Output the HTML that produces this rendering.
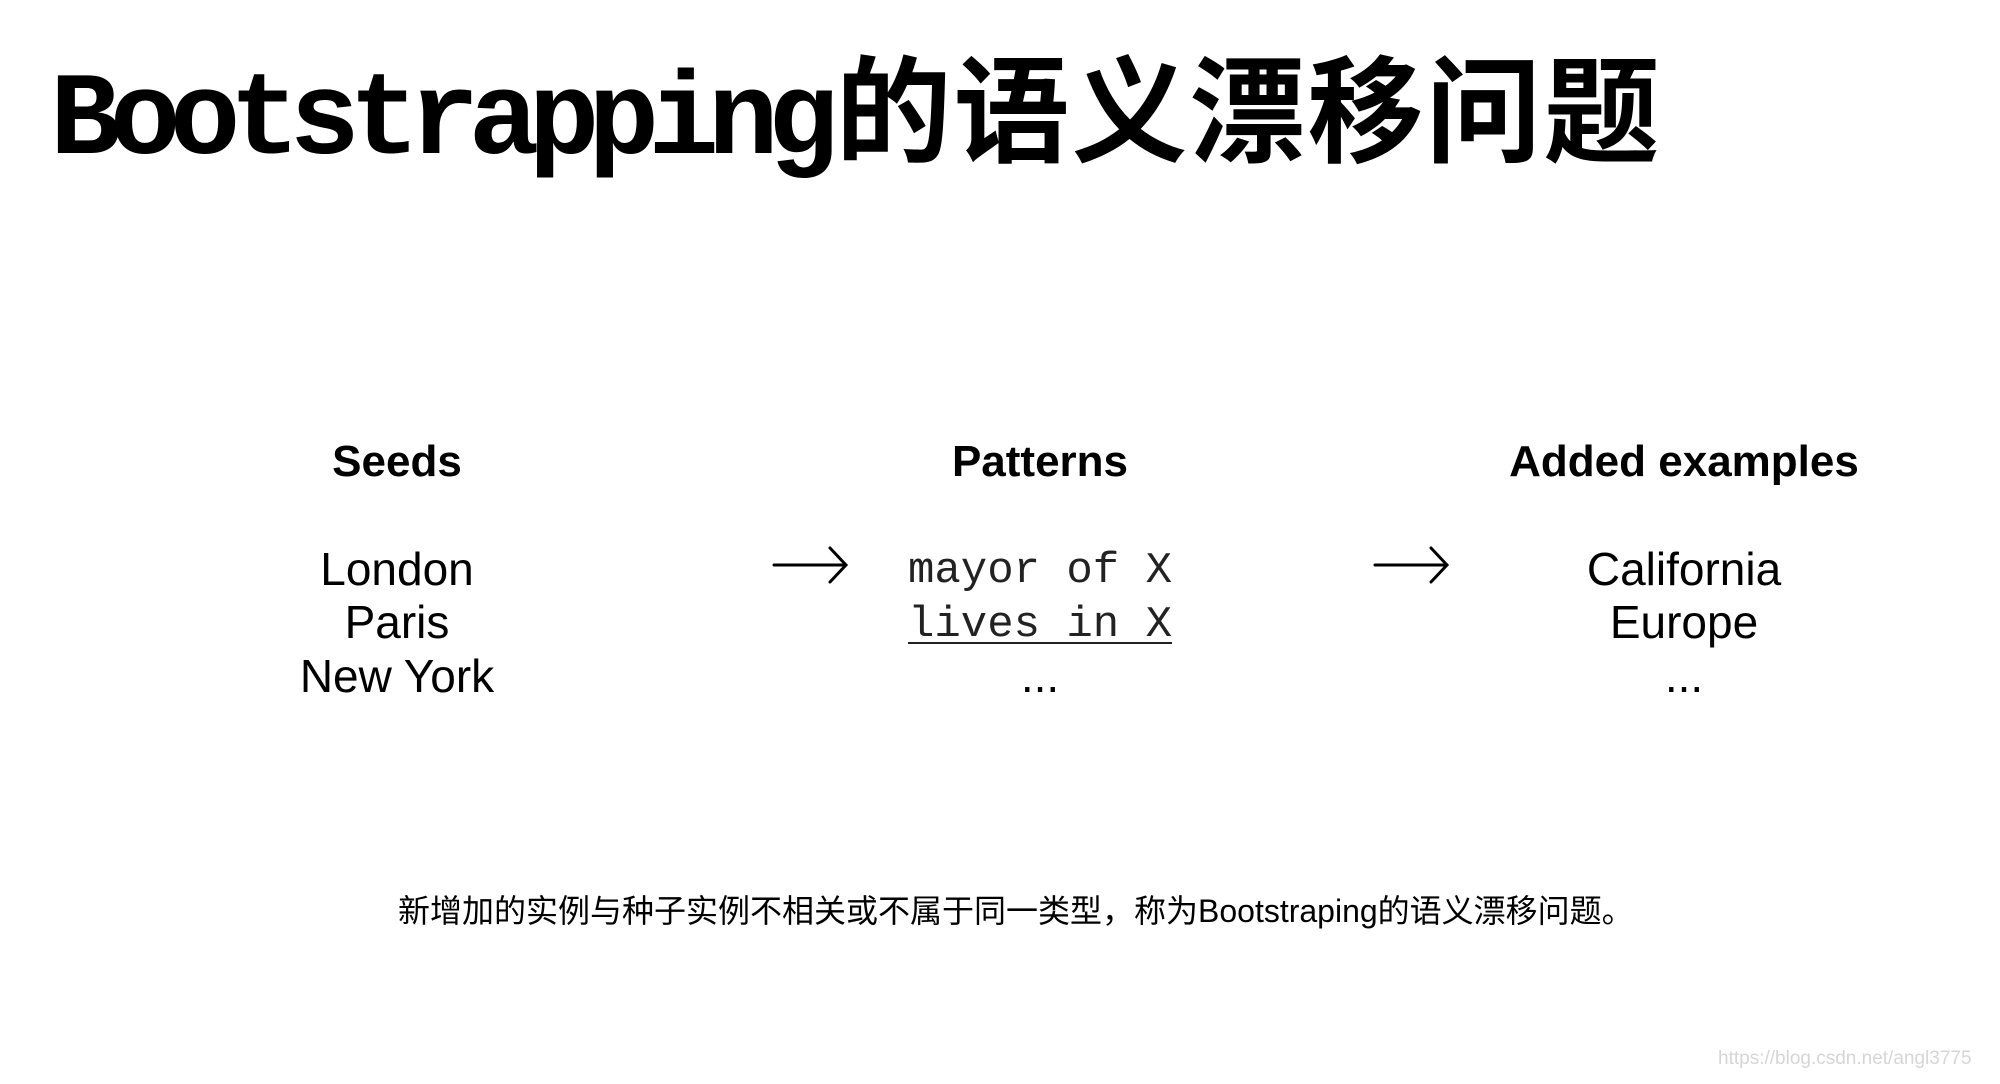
<!DOCTYPE html>
<html><head><meta charset="utf-8"><style>
html,body{margin:0;padding:0;background:#fff;}
body{width:2000px;height:1084px;position:relative;overflow:hidden;font-family:"Liberation Sans","Noto Sans CJK SC",sans-serif;color:#000;}
.a{position:absolute;white-space:nowrap;}
.c{transform:translate(-50%,-50%);}
.h{font-weight:bold;font-size:44px;}
.t{font-size:46px;}
.m{font-family:"Liberation Mono",monospace;font-size:44px;color:#222;}
</style></head><body>
<div class="a" style="left:50px;top:28px;line-height:150px;font-weight:bold;">
<span style="font-family:'Liberation Mono',monospace;font-size:118px;letter-spacing:-11px;">Bootstrapping</span><span style="font-family:'Noto Sans CJK SC',sans-serif;font-size:116px;margin-left:8px;letter-spacing:2px;">的语义漂移问题</span>
</div>

<div class="a c h" style="left:397px;top:462px;">Seeds</div>
<div class="a c h" style="left:1040px;top:462px;">Patterns</div>
<div class="a c h" style="left:1684px;top:462px;">Added examples</div>

<div class="a c t" style="left:397px;top:569px;">London</div>
<div class="a c t" style="left:397px;top:622px;">Paris</div>
<div class="a c t" style="left:397px;top:676px;">New York</div>

<div class="a c m" style="left:1040px;top:571px;">mayor of X</div>
<div class="a c m" style="left:1040px;top:625px;text-decoration:underline;text-underline-offset:6px;text-decoration-thickness:2px;">lives in X</div>
<div class="a c t" style="left:1040px;top:676px;">...</div>

<div class="a c t" style="left:1684px;top:569px;">California</div>
<div class="a c t" style="left:1684px;top:622px;">Europe</div>
<div class="a c t" style="left:1684px;top:676px;">...</div>

<svg class="a" style="left:0;top:0" width="2000" height="1084">
<g stroke="#000" stroke-width="3" fill="none" stroke-linecap="round">
<path d="M774 565 H846 M830 548 L846 565 L830 582"/>
<path d="M1375 565 H1447 M1431 548 L1447 565 L1431 582"/>
</g></svg>

<div class="a" style="left:398px;top:886px;font-size:32px;font-family:'Liberation Sans','Noto Sans CJK SC',sans-serif;">新增加的实例与种子实例不相关或不属于同一类型，称为Bootstraping的语义漂移问题。</div>
<div class="a" style="left:1718px;top:1048px;font-size:19px;color:#d6d6d6;">https://blog.csdn.net/angl3775</div>
</body></html>
